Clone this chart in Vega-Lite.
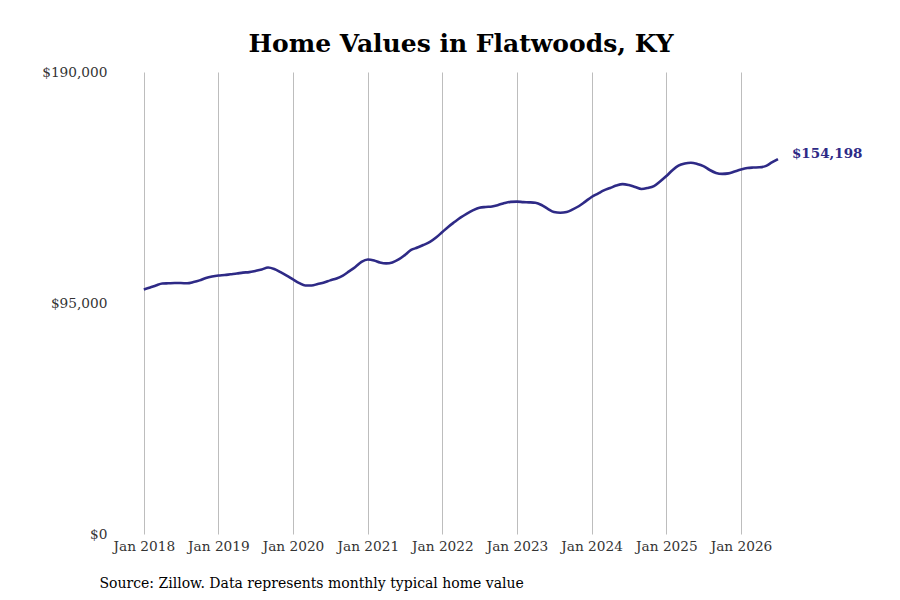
{
  "$schema": "https://vega.github.io/schema/vega-lite/v6.json",
  "autosize": {"type": "none"},
  "padding": {"left": 115, "top": 72, "right": 93, "bottom": 66},
  "width": 692,
  "height": 462,
  "background": "white",
  "title": {
    "text": "Home Values in Flatwoods, KY",
    "font": "DejaVu Serif",
    "fontSize": 25,
    "fontWeight": "bold",
    "color": "black",
    "anchor": "middle",
    "offset": 8
  },
  "data": {
    "values": [
      {"date": "2018-01-01", "value": 100600},
      {"date": "2018-02-01", "value": 101400},
      {"date": "2018-03-01", "value": 102200},
      {"date": "2018-04-01", "value": 103000},
      {"date": "2018-05-01", "value": 103100},
      {"date": "2018-06-01", "value": 103200},
      {"date": "2018-07-01", "value": 103200},
      {"date": "2018-08-01", "value": 103100},
      {"date": "2018-09-01", "value": 103600},
      {"date": "2018-10-01", "value": 104300},
      {"date": "2018-11-01", "value": 105300},
      {"date": "2018-12-01", "value": 105900},
      {"date": "2019-01-01", "value": 106300},
      {"date": "2019-02-01", "value": 106500},
      {"date": "2019-03-01", "value": 106800},
      {"date": "2019-04-01", "value": 107100},
      {"date": "2019-05-01", "value": 107500},
      {"date": "2019-06-01", "value": 107700},
      {"date": "2019-07-01", "value": 108200},
      {"date": "2019-08-01", "value": 108800},
      {"date": "2019-09-01", "value": 109600},
      {"date": "2019-10-01", "value": 109000},
      {"date": "2019-11-01", "value": 107700},
      {"date": "2019-12-01", "value": 106300},
      {"date": "2020-01-01", "value": 104700},
      {"date": "2020-02-01", "value": 103200},
      {"date": "2020-03-01", "value": 102200},
      {"date": "2020-04-01", "value": 102200},
      {"date": "2020-05-01", "value": 102800},
      {"date": "2020-06-01", "value": 103400},
      {"date": "2020-07-01", "value": 104300},
      {"date": "2020-08-01", "value": 105100},
      {"date": "2020-09-01", "value": 106300},
      {"date": "2020-10-01", "value": 108000},
      {"date": "2020-11-01", "value": 109800},
      {"date": "2020-12-01", "value": 111900},
      {"date": "2021-01-01", "value": 112900},
      {"date": "2021-02-01", "value": 112500},
      {"date": "2021-03-01", "value": 111700},
      {"date": "2021-04-01", "value": 111300},
      {"date": "2021-05-01", "value": 111700},
      {"date": "2021-06-01", "value": 112900},
      {"date": "2021-07-01", "value": 114700},
      {"date": "2021-08-01", "value": 116800},
      {"date": "2021-09-01", "value": 117800},
      {"date": "2021-10-01", "value": 118900},
      {"date": "2021-11-01", "value": 120100},
      {"date": "2021-12-01", "value": 121900},
      {"date": "2022-01-01", "value": 124200},
      {"date": "2022-02-01", "value": 126500},
      {"date": "2022-03-01", "value": 128300},
      {"date": "2022-04-01", "value": 130200},
      {"date": "2022-05-01", "value": 131800},
      {"date": "2022-06-01", "value": 133200},
      {"date": "2022-07-01", "value": 134200},
      {"date": "2022-08-01", "value": 134500},
      {"date": "2022-09-01", "value": 134700},
      {"date": "2022-10-01", "value": 135300},
      {"date": "2022-11-01", "value": 136100},
      {"date": "2022-12-01", "value": 136600},
      {"date": "2023-01-01", "value": 136700},
      {"date": "2023-02-01", "value": 136500},
      {"date": "2023-03-01", "value": 136400},
      {"date": "2023-04-01", "value": 136200},
      {"date": "2023-05-01", "value": 135300},
      {"date": "2023-06-01", "value": 133700},
      {"date": "2023-07-01", "value": 132400},
      {"date": "2023-08-01", "value": 132100},
      {"date": "2023-09-01", "value": 132400},
      {"date": "2023-10-01", "value": 133500},
      {"date": "2023-11-01", "value": 134900},
      {"date": "2023-12-01", "value": 136700},
      {"date": "2024-01-01", "value": 138600},
      {"date": "2024-02-01", "value": 140000},
      {"date": "2024-03-01", "value": 141300},
      {"date": "2024-04-01", "value": 142300},
      {"date": "2024-05-01", "value": 143300},
      {"date": "2024-06-01", "value": 143900},
      {"date": "2024-07-01", "value": 143500},
      {"date": "2024-08-01", "value": 142700},
      {"date": "2024-09-01", "value": 141900},
      {"date": "2024-10-01", "value": 142300},
      {"date": "2024-11-01", "value": 143100},
      {"date": "2024-12-01", "value": 145000},
      {"date": "2025-01-01", "value": 147200},
      {"date": "2025-02-01", "value": 149700},
      {"date": "2025-03-01", "value": 151500},
      {"date": "2025-04-01", "value": 152400},
      {"date": "2025-05-01", "value": 152700},
      {"date": "2025-06-01", "value": 152200},
      {"date": "2025-07-01", "value": 151300},
      {"date": "2025-08-01", "value": 149700},
      {"date": "2025-09-01", "value": 148500},
      {"date": "2025-10-01", "value": 148100},
      {"date": "2025-11-01", "value": 148300},
      {"date": "2025-12-01", "value": 149100},
      {"date": "2026-01-01", "value": 149900},
      {"date": "2026-02-01", "value": 150500},
      {"date": "2026-03-01", "value": 150700},
      {"date": "2026-04-01", "value": 150800},
      {"date": "2026-05-01", "value": 151300},
      {"date": "2026-06-01", "value": 152800},
      {"date": "2026-07-01", "value": 154198}
    ]
  },
  "encoding": {
    "x": {
      "field": "date",
      "type": "temporal",
      "scale": {
        "type": "utc",
        "domain": [
          {"year": 2017, "month": 8, "date": 13, "utc": true},
          {"year": 2026, "month": 11, "date": 20, "utc": true}
        ]
      },
      "axis": {
        "values": [
          {"year": 2018, "month": 1, "date": 1, "utc": true},
          {"year": 2019, "month": 1, "date": 1, "utc": true},
          {"year": 2020, "month": 1, "date": 1, "utc": true},
          {"year": 2021, "month": 1, "date": 1, "utc": true},
          {"year": 2022, "month": 1, "date": 1, "utc": true},
          {"year": 2023, "month": 1, "date": 1, "utc": true},
          {"year": 2024, "month": 1, "date": 1, "utc": true},
          {"year": 2025, "month": 1, "date": 1, "utc": true},
          {"year": 2026, "month": 1, "date": 1, "utc": true}
        ],
        "labelExpr": "utcFormat(datum.value, '%b %Y')",
        "grid": true,
        "gridColor": "#bdbdbd",
        "gridWidth": 1,
        "domain": false,
        "ticks": false,
        "labelPadding": 5,
        "labelFont": "DejaVu Serif",
        "labelFontSize": 13.7,
        "labelColor": "#333333",
        "title": "Source: Zillow. Data represents monthly typical home value",
        "titleFont": "DejaVu Serif",
        "titleFontSize": 14,
        "titleFontWeight": "normal",
        "titleColor": "black",
        "titleAnchor": "start",
        "titleAlign": "left",
        "titleBaseline": "middle",
        "titleX": -16,
        "titleY": 49
      }
    },
    "y": {
      "field": "value",
      "type": "quantitative",
      "scale": {"domain": [0, 190000]},
      "axis": {
        "values": [0, 95000, 190000],
        "format": "$,.0f",
        "grid": false,
        "domain": false,
        "ticks": false,
        "labelPadding": 8,
        "labelFont": "DejaVu Serif",
        "labelFontSize": 13.7,
        "labelColor": "#333333",
        "title": null
      }
    }
  },
  "layer": [
    {
      "mark": {
        "type": "line",
        "color": "#2e2a86",
        "strokeWidth": 2.6,
        "interpolate": "monotone"
      }
    },
    {
      "transform": [{"filter": {"field": "value", "equal": 154198}}],
      "mark": {
        "type": "text",
        "align": "left",
        "baseline": "middle",
        "dx": 14,
        "dy": -5,
        "font": "DejaVu Serif",
        "fontSize": 13.5,
        "fontWeight": "bold",
        "color": "#2e2a86"
      },
      "encoding": {
        "text": {"field": "value", "type": "quantitative", "format": "$,.0f"}
      }
    }
  ],
  "config": {
    "view": {"stroke": null}
  }
}
